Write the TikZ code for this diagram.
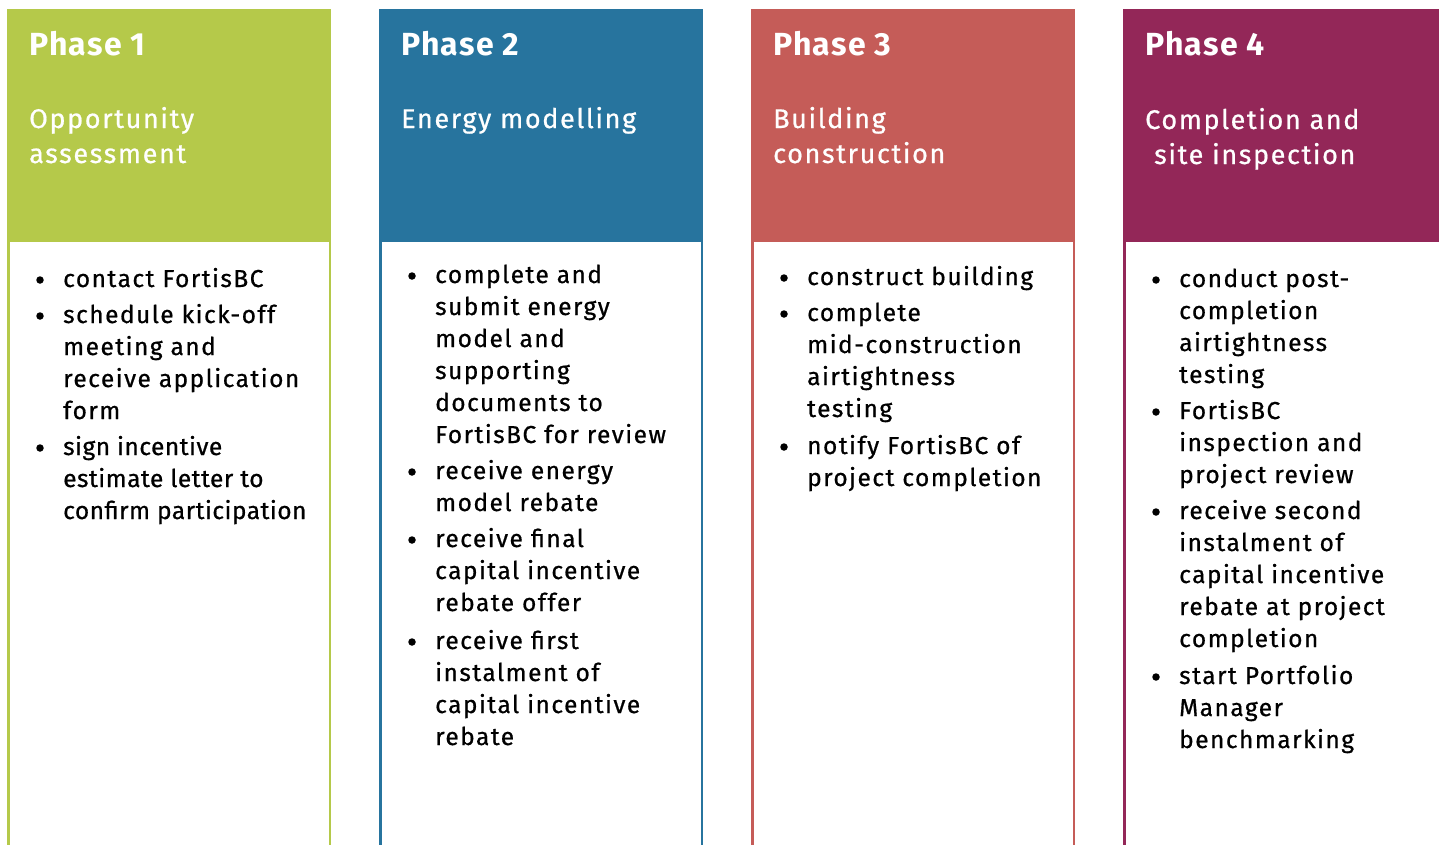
\documentclass[tikz,border=0pt]{standalone}
\usepackage{fontspec}
\setmainfont{Fira Sans}[LetterSpace=6, FakeBold=0.7]
\newfontfamily\headbold{Fira Sans}[BoldFont={Fira Sans Bold}, LetterSpace=4]
\definecolor{phgreen}{HTML}{B5C94A}
\definecolor{phblue}{HTML}{27749E}
\definecolor{phred}{HTML}{C55C58}
\definecolor{phpurple}{HTML}{932758}
% a block of lines whose first baseline is the box baseline
\newcommand\stack[1]{\begin{tabular}[t]{@{}l@{}}#1\end{tabular}}
\begin{document}
\begin{tikzpicture}[x=1pt,y=-1pt,
  phasetitle/.style={anchor=base west, inner sep=0pt, text=white,
    font=\headbold\bfseries\fontsize{32}{38}\selectfont},
  phasename/.style={anchor=base west, inner sep=0pt, text=white,
    font=\fontsize{27}{35}\selectfont},
  bulletdot/.style={circle, fill=black, inner sep=0pt, minimum size=7.5pt},
  itemtext/.style={anchor=base west, inner sep=0pt,
    font=\fontsize{24.5}{32}\selectfont}]
\useasboundingbox (0,0) rectangle (1439,844);
% column frames: coloured band on top, white body with coloured sides
\foreach \x/\c in {7/phgreen,379/phblue,751/phred,1123/phpurple}{
  \fill[\c] (\x,9) rectangle ++(324,850);
  \fill[white] (\x+2.5,242) rectangle ++(319,620);
}
% Phase 1
\node[phasetitle] (t1) at (29,55) {Phase 1};
\node[phasename] (n1) at (29,128) {\stack{Opportunity\\assessment}};
\node[bulletdot] (b11) at (40,280) {};
\node[itemtext] (i11) at (63,287) {\stack{contact FortisBC}};
\node[bulletdot] (b12) at (40,316) {};
\node[itemtext] (i12) at (63,323) {\stack{schedule kick-off\\meeting and\\receive application\\form}};
\node[bulletdot] (b13) at (40,448) {};
\node[itemtext] (i13) at (63,455) {\addfontfeatures{LetterSpace=2}\stack{sign incentive\\estimate letter to\\confirm participation}};
% Phase 2
\node[phasetitle] (t2) at (401,55) {Phase 2};
\node[phasename] (n2) at (401,128) {\stack{Energy modelling}};
\node[bulletdot] (b21) at (412,276) {};
\node[itemtext] (i21) at (435,283) {\stack{complete and\\submit energy\\model and\\supporting\\documents to\\FortisBC for review}};
\node[bulletdot] (b22) at (412,472) {};
\node[itemtext] (i22) at (435,479) {\stack{receive energy\\model rebate}};
\node[bulletdot] (b23) at (412,540) {};
\node[itemtext] (i23) at (435,547) {\stack{receive final\\capital incentive\\rebate offer}};
\node[bulletdot] (b24) at (412,642) {};
\node[itemtext] (i24) at (435,649) {\stack{receive first\\instalment of\\capital incentive\\rebate}};
% Phase 3
\node[phasetitle] (t3) at (773,55) {Phase 3};
\node[phasename] (n3) at (773,128) {\stack{Building\\construction}};
\node[bulletdot] (b31) at (784,278) {};
\node[itemtext] (i31) at (807,285) {\stack{construct building}};
\node[bulletdot] (b32) at (784,314) {};
\node[itemtext] (i32) at (807,321) {\stack{complete\\mid-construction\\airtightness\\testing}};
\node[bulletdot] (b33) at (784,447) {};
\node[itemtext] (i33) at (807,454) {\stack{notify FortisBC of\\project completion}};
% Phase 4
\node[phasetitle] (t4) at (1145,55) {Phase 4};
\node[phasename] (n4) at (1145,129) {\stack{Completion and\\\hspace{9pt}site inspection}};
\node[bulletdot] (b41) at (1156,280) {};
\node[itemtext] (i41) at (1179,287) {\stack{conduct post-\\completion\\airtightness\\testing}};
\node[bulletdot] (b42) at (1156,412) {};
\node[itemtext] (i42) at (1179,419) {\stack{FortisBC\\inspection and\\project review}};
\node[bulletdot] (b43) at (1156,512) {};
\node[itemtext] (i43) at (1179,519) {\stack{receive second\\instalment of\\capital incentive\\rebate at project\\completion}};
\node[bulletdot] (b44) at (1156,677) {};
\node[itemtext] (i44) at (1179,684) {\stack{start Portfolio\\Manager\\benchmarking}};
\end{tikzpicture}
\end{document}
